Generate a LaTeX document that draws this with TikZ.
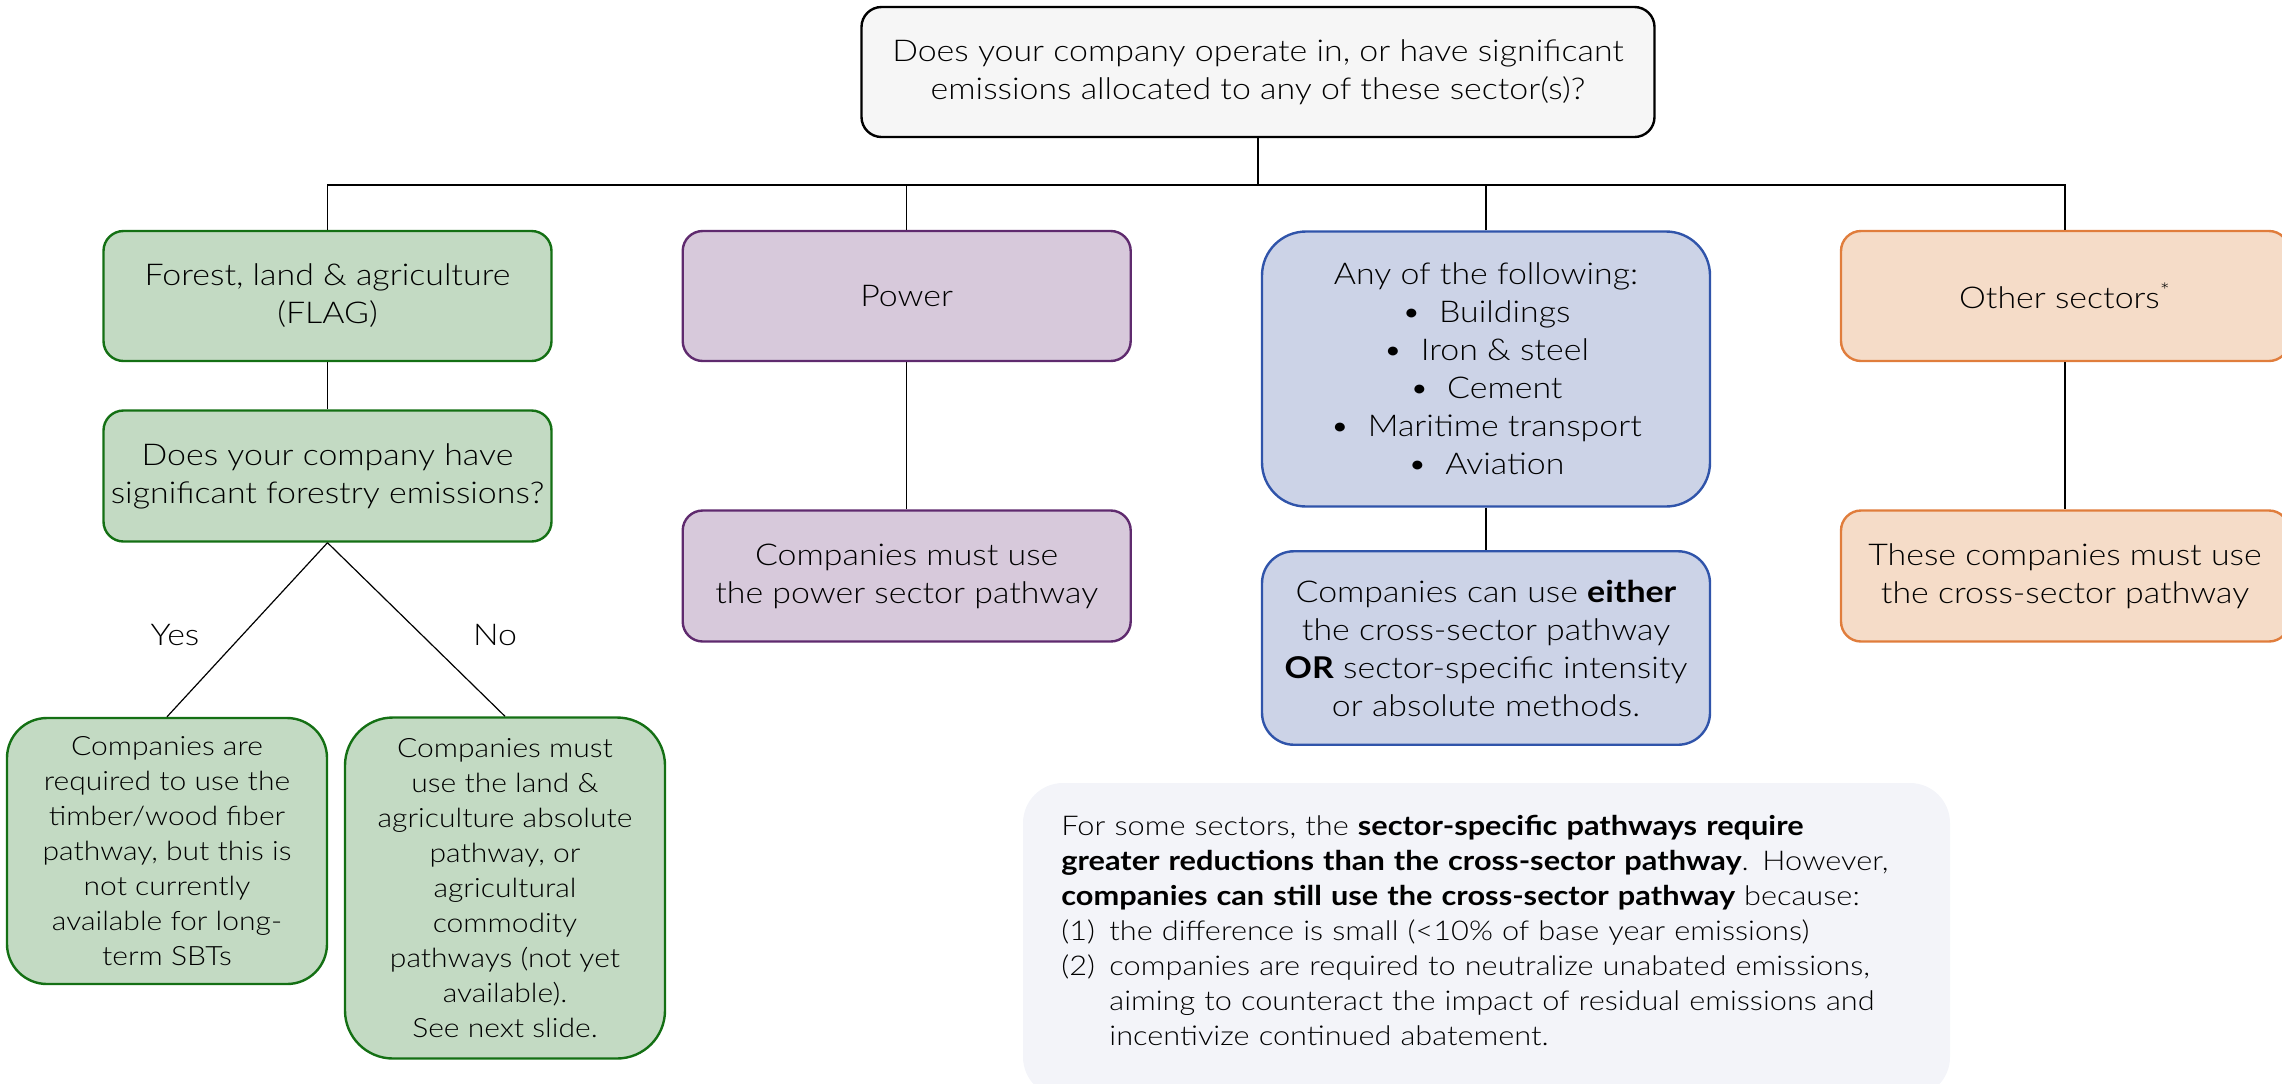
\documentclass[tikz,border=0pt]{standalone}
\usepackage{fontspec}
\setmainfont{Lato Light}[BoldFont=Lato Bold, FakeStretch=1.13]
\definecolor{topfill}{RGB}{246,246,246}
\definecolor{gfill}{RGB}{195,218,195}
\definecolor{gline}{RGB}{20,112,20}
\definecolor{pfill}{RGB}{215,201,219}
\definecolor{pline}{RGB}{95,42,110}
\definecolor{bfill}{RGB}{204,211,231}
\definecolor{bline}{RGB}{48,84,170}
\definecolor{ofill}{RGB}{245,220,200}
\definecolor{oline}{RGB}{224,125,60}
\definecolor{nfill}{RGB}{243,244,249}
\begin{document}
\begin{tikzpicture}[x=0.5pt,y=-0.5pt,
  box/.style={draw, line width=1.2pt, rounded corners=10pt, align=center, inner sep=2pt,
    font=\fontsize{15}{19}\selectfont},
  small/.style={font=\fontsize{13.3}{17.5}\selectfont},
  gbox/.style={box, fill=gfill, draw=gline},
  pbox/.style={box, fill=pfill, draw=pline},
  bbox/.style={box, fill=bfill, draw=bline},
  obox/.style={box, fill=ofill, draw=oline},
  conn/.style={draw=black, line width=0.6pt},
  lbl/.style={font=\fontsize{15}{19}\selectfont}]
\useasboundingbox (0,0) rectangle (2282,1083);

% top question
\node[box, fill=topfill, draw=black, minimum width=396.5pt, minimum height=65pt] (top) at (1258,72)
  {Does your company operate in, or have significant\\ emissions allocated to any of these sector(s)?};
\coordinate (bus) at (1258,185);

% row 1
\node[gbox, minimum width=224pt, minimum height=65pt] (flag) at (327.5,296) {Forest, land \& agriculture\\ (FLAG)};
\node[pbox, minimum width=224pt, minimum height=65pt] (power) at (906.7,296) {Power};
\node[bbox, minimum width=224pt, minimum height=137.5pt, rounded corners=22pt] (any) at (1486,369)
  {Any of the following:\\
   \textbullet\hspace{9pt}Buildings\\
   \textbullet\hspace{9pt}Iron \& steel\\
   \textbullet\hspace{9pt}Cement\\
   \textbullet\hspace{9pt}Maritime transport\\
   \textbullet\hspace{9pt}Aviation};
\node[obox, minimum width=224pt, minimum height=65pt] (other) at (2065,296) {Other sectors\textsuperscript{*}};

% row 2
\node[gbox, minimum width=224pt, minimum height=65.5pt] (flagq) at (327.5,476)
  {Does your company have\\ significant forestry emissions?};
\node[pbox, minimum width=224pt, minimum height=65.5pt] (powerres) at (906.7,576)
  {Companies must use\\ the power sector pathway};
\node[bbox, minimum width=224pt, minimum height=96.75pt, rounded corners=16pt] (anyres) at (1486,648)
  {Companies can use \textbf{either}\\ the cross-sector pathway\\ \textbf{OR} sector-specific intensity\\ or absolute methods.};
\node[obox, minimum width=224pt, minimum height=65.5pt] (otherres) at (2065,576)
  {These companies must use\\ the cross-sector pathway};

% FLAG outcomes
\node[gbox, small, minimum width=160pt, minimum height=133pt, rounded corners=20pt] (yes) at (167,851)
  {Companies are\\ required to use the\\ timber/wood fiber\\ pathway, but this is\\ not currently\\ available for long-\\ term SBTs};
\node[gbox, small, minimum width=160pt, minimum height=170.5pt, rounded corners=24pt] (no) at (505,888)
  {Companies must\\ use the land \&\\ agriculture absolute\\ pathway, or\\ agricultural\\ commodity\\ pathways (not yet\\ available).\\ See next slide.};
\node[lbl] (yeslbl) at (175,635) {Yes};
\node[lbl] (nolbl) at (495,635) {No};

% connectors
\draw[conn] (top.south) -- (bus);
\draw[conn] (flag.north) |- (bus);
\draw[conn] (power.north) |- (bus);
\draw[conn] (any.north) |- (bus);
\draw[conn] (other.north) |- (bus);
\draw[conn] (flag.south) -- (flagq.north);
\draw[conn] (power.south) -- (powerres.north);
\draw[conn] (any.south) -- (anyres.north);
\draw[conn] (other.south) -- (otherres.north);
\draw[conn] (flagq.south) -- (yes.north);
\draw[conn] (flagq.south) -- (no.north);

% note
\node[fill=nfill, draw=none, rounded corners=20pt, minimum width=463.5pt, minimum height=157pt, inner sep=0pt] (notebg) at (1486.5,940) {};
\node[anchor=north west, align=left, inner sep=0pt, text width=440pt, font=\fontsize{13.6}{17.5}\selectfont] (note) at (1061,815)
  {For some sectors, the \textbf{sector-specific pathways require}\\
   \textbf{greater reductions than the cross-sector pathway}. However,\\
   \textbf{companies can still use the cross-sector pathway} because:\\
   \makebox[24pt][l]{(1)}the difference is small (<10\% of base year emissions)\\
   \makebox[24pt][l]{(2)}companies are required to neutralize unabated emissions,\\
   \hspace*{24pt}aiming to counteract the impact of residual emissions and\\
   \hspace*{24pt}incentivize continued abatement.};
\end{tikzpicture}
\end{document}
